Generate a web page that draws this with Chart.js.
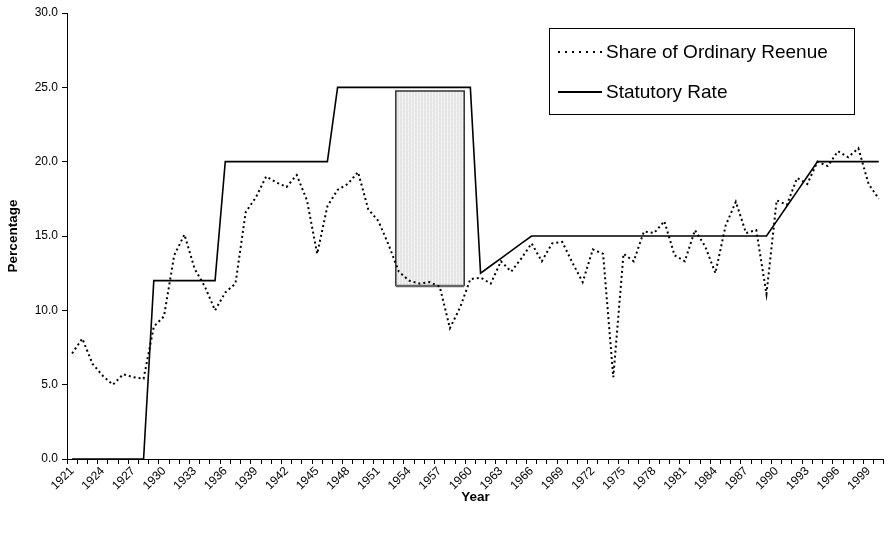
<!DOCTYPE html>
<html><head><meta charset="utf-8">
<script src="https://cdn.jsdelivr.net/npm/chart.js@4/dist/chart.umd.min.js"></script>
<style>html,body{margin:0;padding:0;background:#fff;}#wrap{width:889px;height:534px;}</style>
</head><body><div id="wrap"><canvas id="c" width="889" height="534"></canvas></div>
<script>
const years = [1921,1922,1923,1924,1925,1926,1927,1928,1929,1930,
  1931,1932,1933,1934,1935,1936,1937,1938,1939,1940,
  1941,1942,1943,1944,1945,1946,1947,1948,1949,1950,
  1951,1952,1953,1954,1955,1956,1957,1958,1959,1960,
  1961,1962,1963,1964,1965,1966,1967,1968,1969,1970,
  1971,1972,1973,1974,1975,1976,1977,1978,1979,1980,
  1981,1982,1983,1984,1985,1986,1987,1988,1989,1990,
  1991,1992,1993,1994,1995,1996,1997,1998,1999,2000];
const shareOfOrdinaryRevenue = [7.1,8.1,6.4,5.6,5.0,5.7,5.5,5.4,8.9,9.6,
  13.7,15.1,12.8,11.6,10.0,11.2,11.8,16.6,17.6,19.0,
  18.6,18.3,19.1,17.4,13.8,17.0,18.1,18.5,19.3,16.8,
  16.0,14.4,12.6,12.0,11.8,11.9,11.6,8.8,10.2,12.1,
  12.2,11.8,13.3,12.6,13.5,14.5,13.3,14.5,14.6,13.2,
  11.9,14.1,13.8,5.5,13.8,13.3,15.3,15.2,16.0,13.7,
  13.3,15.4,14.3,12.5,15.7,17.3,15.2,15.4,11.1,17.4,
  17.1,18.9,18.5,20.0,19.7,20.7,20.3,20.9,18.5,17.5];
const statutoryRate = [0,0,0,0,0,0,0,0,12,12,
  12,12,12,12,12,20,20,20,20,20,
  20,20,20,20,20,20,25,25,25,25,
  25,25,25,25,25,25,25,25,25,25,
  12.5,13,13.5,14,14.5,15,15,15,15,15,
  15,15,15,15,15,15,15,15,15,15,
  15,15,15,15,15,15,15,15,15,16,
  17,18,19,20,20,20,20,20,20,20];
const yTicks = [0,5,10,15,20,25,30];
const shadedYears = [1952.7, 1959.4];
const shadedValues = [11.63, 24.75];
const seriesNames = ['Share of Ordinary Reenue','Statutory Rate'];

const FONT = "'Liberation Sans', Arial, sans-serif";

const shadePlugin = {
  id:'shade',
  beforeDatasetsDraw(chart){
    const {ctx, scales:{x,y}} = chart;
    const x0 = x.getPixelForValue(shadedYears[0]-years[0]);
    const x1 = x.getPixelForValue(shadedYears[1]-years[0]);
    const yTop = y.getPixelForValue(shadedValues[1]);
    const yBot = y.getPixelForValue(shadedValues[0]);
    const pc = document.createElement('canvas'); pc.width=6; pc.height=4;
    const p = pc.getContext('2d');
    p.fillStyle='#e6e6e6'; p.fillRect(0,0,6,4);
    p.fillStyle='#f4f4f4'; p.fillRect(0,0,1,4); p.fillRect(3,0,1,4);
    p.fillStyle='#dddddd'; p.fillRect(1,3,1,1);
    ctx.save();
    ctx.fillStyle = ctx.createPattern(pc,'repeat');
    ctx.fillRect(x0,yTop,x1-x0,yBot-yTop);
    ctx.strokeStyle='#333'; ctx.lineWidth=1.5;
    ctx.beginPath(); ctx.moveTo(x0,yBot); ctx.lineTo(x0,yTop); ctx.lineTo(x1,yTop); ctx.lineTo(x1,yBot); ctx.stroke();
    ctx.strokeStyle='#666'; ctx.lineWidth=2.5;
    ctx.beginPath(); ctx.moveTo(x0,yBot); ctx.lineTo(x1,yBot); ctx.stroke();
    ctx.restore();
  }
};

const legendPlugin = {
  id:'customLegend',
  afterDraw(chart){
    const ctx = chart.ctx;
    ctx.save();
    ctx.strokeStyle='#000'; ctx.lineWidth=1;
    ctx.strokeRect(549.5,28.5,305,86);
    ctx.font = "19px " + FONT;
    ctx.fillStyle='#000'; ctx.textBaseline='middle'; ctx.textAlign='left';
    const rows = [52,92];
    chart.data.datasets.forEach((ds,i)=>{
      ctx.beginPath();
      ctx.setLineDash(i===0?[2,5]:[]);
      ctx.lineWidth = 1.8;
      ctx.moveTo(558,rows[i]); ctx.lineTo(602,rows[i]); ctx.stroke();
      ctx.setLineDash([]);
      ctx.fillText(ds.label, 606, rows[i]+1);
    });
    ctx.restore();
  }
};

new Chart(document.getElementById('c'), {
  type:'line',
  data:{
    labels: years.map(String),
    datasets:[
      {label:seriesNames[0], data:shareOfOrdinaryRevenue, borderColor:'#000', borderWidth:2, borderDash:[2,3], pointRadius:0, tension:0, fill:false},
      {label:seriesNames[1], data:statutoryRate, borderColor:'#000', borderWidth:1.6, pointRadius:0, tension:0, fill:false}
    ]
  },
  options:{
    responsive:false, animation:false,
    layout:{padding:{left:5,top:13,right:5,bottom:25}},
    plugins:{legend:{display:false}, tooltip:{enabled:false}},
    scales:{
      x:{
        type:'category', offset:true,
        grid:{display:true, offset:true, drawOnChartArea:false, drawTicks:true, tickLength:5, color:'#000', lineWidth:1},
        border:{display:true, color:'#000', width:1},
        ticks:{autoSkip:false, maxRotation:45, minRotation:45, padding:0, color:'#000', font:{family:FONT,size:12},
          callback:(v,i)=> (i%3===0 ? String(years[i]) : '')},
        title:{display:true, text:'Year', color:'#000', font:{family:FONT,size:13.5,weight:'bold'}, padding:{top:0,bottom:4}},
        afterFit:(s)=>{ s.height = 50; }
      },
      y:{
        min:0, max:30,
        afterBuildTicks:(s)=>{ s.ticks = yTicks.map(v=>({value:v})); },
        grid:{display:true, drawOnChartArea:false, drawTicks:true, tickLength:5, color:'#000'},
        border:{display:true, color:'#000', width:1},
        ticks:{color:'#000', padding:4, font:{family:FONT,size:12}, callback:(v)=>Number(v).toFixed(1)},
        title:{display:true, text:'Percentage', color:'#000', font:{family:FONT,size:13.5,weight:'bold'}, padding:{top:0,bottom:0}},
        afterFit:(s)=>{ s.width = 62; }
      }
    }
  },
  plugins:[shadePlugin, legendPlugin]
});
</script></body></html>
